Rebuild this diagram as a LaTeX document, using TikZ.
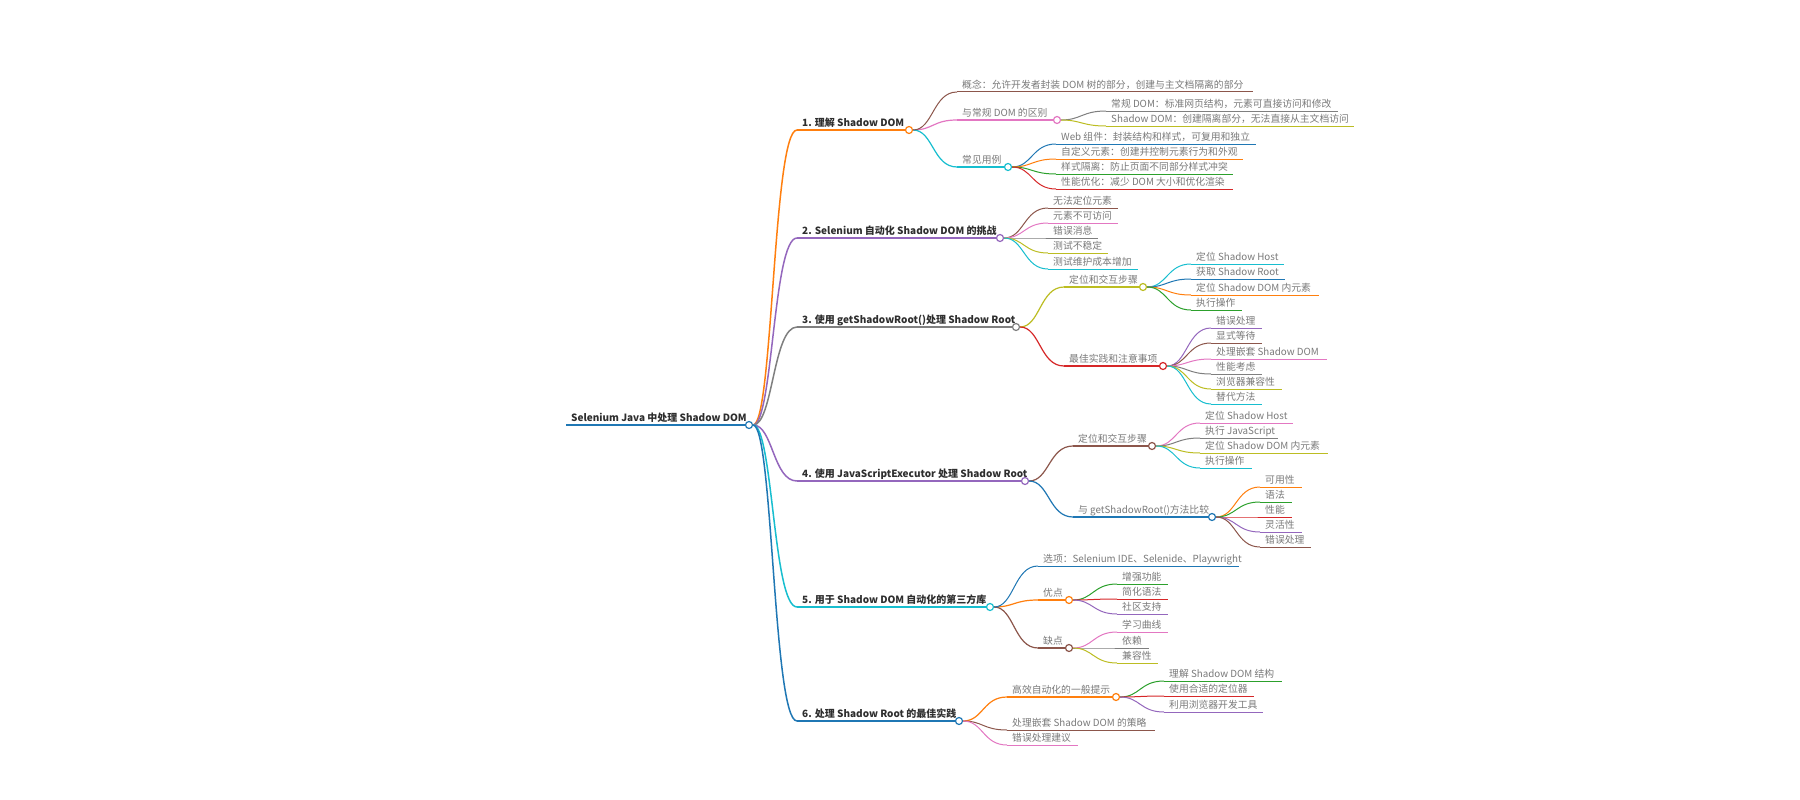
\documentclass[tikz,border=0pt]{standalone}
\usepackage{fontspec}
\setmainfont{Noto Sans CJK SC}
\usetikzlibrary{positioning}

\definecolor{mblue}{HTML}{1F77B4}
\definecolor{morange}{HTML}{FF7F0E}
\definecolor{mgreen}{HTML}{2CA02C}
\definecolor{mred}{HTML}{D62728}
\definecolor{mpurple}{HTML}{9467BD}
\definecolor{mbrown}{HTML}{8C564B}
\definecolor{mpink}{HTML}{E377C2}
\definecolor{mgray}{HTML}{7F7F7F}
\definecolor{molive}{HTML}{BCBD22}
\definecolor{mcyan}{HTML}{17BECF}
\definecolor{txtgray}{HTML}{7A7A7A}

\begin{document}
\begin{tikzpicture}[
  x=1pt, y=-1pt,
  topic/.style={anchor=south west, inner xsep=5pt, inner ysep=1.5pt, text height=8pt, text depth=2pt, text=txtgray, font=\fontsize{9.8}{11}\selectfont},
  head/.style={topic, text=black!82, font=\fontsize{10}{12}\selectfont\bfseries},
  knob/.style={circle, draw=#1, fill=white, line width=1.2pt, minimum size=7pt, inner sep=0pt},
  uline/.style={draw=#1, line width=1pt},
  link/.style={draw=#1, line width=1pt}
]
\fill[white] (0,0) rectangle (1800,800);
\useasboundingbox (0,0) rectangle (1800,800);

% root
\node[head] (root) at (566,425) {Selenium Java 中处理 Shadow DOM};
\node[knob=mblue] (root-o) at (749,425) {};
\draw[uline=mblue, line width=2pt] (root.south west) -- (root-o);

% main branches
\foreach \n/\y/\d/\col/\lbl in {%
  b1/130/909/morange/1. 理解 Shadow DOM,%
  b2/238/1000/mpurple/2. Selenium 自动化 Shadow DOM 的挑战,%
  b3/327/1016/mgray/3. 使用 getShadowRoot()处理 Shadow Root,%
  b4/481/1025/mpurple/4. 使用 JavaScriptExecutor 处理 Shadow Root,%
  b5/607/990/mcyan/5. 用于 Shadow DOM 自动化的第三方库,%
  b6/721/959/mblue/6. 处理 Shadow Root 的最佳实践%
}{
  \node[head] (\n) at (797,\y) {\lbl};
  \node[knob=\col] (\n-o) at (\d,\y) {};
  \draw[uline=\col, line width=2pt] (\n.south west) -- (\n-o);
  \draw[link=\col, line width=1.5pt] (root-o) .. controls +(24,0) and +(-24,0) .. (\n.south west);
}

% sub topics with children
\foreach \n/\p/\s/\y/\d/\col/\lbl in {%
  b1b/b1/957/120/1057/mpink/与常规 DOM 的区别,%
  b1c/b1/957/167/1008/mcyan/常见用例,%
  b3a/b3/1064/287/1143/molive/定位和交互步骤,%
  b3b/b3/1064/366/1163/mred/最佳实践和注意事项,%
  b4a/b4/1073/446/1152/mbrown/定位和交互步骤,%
  b4b/b4/1073/517/1212/mblue/与 getShadowRoot()方法比较,%
  b5b/b5/1038/600/1069/morange/优点,%
  b5c/b5/1038/648/1069/mbrown/缺点,%
  b6a/b6/1007/697/1116/morange/高效自动化的一般提示%
}{
  \node[topic] (\n) at (\s,\y) {\lbl};
  \node[knob=\col] (\n-o) at (\d,\y) {};
  \draw[uline=\col, line width=1.4pt] (\n.south west) -- (\n-o);
  \draw[link=\col, line width=1.2pt] (\p-o) .. controls +(24,0) and +(-24,0) .. (\n.south west);
}

% leaves
\foreach \p/\s/\y/\e/\col/\lbl [count=\i] in {%
  b1/957/92/1253/mbrown/概念：允许开发者封装 DOM 树的部分，创建与主文档隔离的部分,%
  b1b/1106/111/1338/mgray/常规 DOM：标准网页结构，元素可直接访问和修改,%
  b1b/1106/126/1354/molive/Shadow DOM：创建隔离部分，无法直接从主文档访问,%
  b1c/1056/144/1256/mblue/Web 组件：封装结构和样式，可复用和独立,%
  b1c/1056/159/1243/morange/自定义元素：创建并控制元素行为和外观,%
  b1c/1056/174/1233/mgreen/样式隔离：防止页面不同部分样式冲突,%
  b1c/1056/189/1233/mred/性能优化：减少 DOM 大小和优化渲染,%
  b2/1048/208/1118/mbrown/无法定位元素,%
  b2/1048/223/1118/mpink/元素不可访问,%
  b2/1048/238/1098/mgray/错误消息,%
  b2/1048/253/1108/molive/测试不稳定,%
  b2/1048/269/1138/mcyan/测试维护成本增加,%
  b3a/1191/264/1284/mcyan/定位 Shadow Host,%
  b3a/1191/279/1285/mblue/获取 Shadow Root,%
  b3a/1191/295/1319/morange/定位 Shadow DOM 内元素,%
  b3a/1191/310/1242/mgreen/执行操作,%
  b3b/1211/328/1262/mpurple/错误处理,%
  b3b/1211/343/1262/mbrown/显式等待,%
  b3b/1211/359/1327/mpink/处理嵌套 Shadow DOM,%
  b3b/1211/374/1262/mgray/性能考虑,%
  b3b/1211/389/1282/molive/浏览器兼容性,%
  b3b/1211/404/1262/mcyan/替代方法,%
  b4a/1200/423/1293/mpink/定位 Shadow Host,%
  b4a/1200/438/1278/mgray/执行 JavaScript,%
  b4a/1200/453/1328/molive/定位 Shadow DOM 内元素,%
  b4a/1200/468/1252/mcyan/执行操作,%
  b4b/1260/487/1302/morange/可用性,%
  b4b/1260/502/1292/mgreen/语法,%
  b4b/1260/517/1292/mred/性能,%
  b4b/1260/532/1302/mpurple/灵活性,%
  b4b/1260/547/1311/mbrown/错误处理,%
  b5/1038/566/1239/mblue/选项：Selenium IDE、Selenide、Playwright,%
  b5b/1117/584/1168/mgreen/增强功能,%
  b5b/1117/599/1168/mred/简化语法,%
  b5b/1117/614/1168/mpurple/社区支持,%
  b5c/1117/632/1168/mpink/学习曲线,%
  b5c/1117/648/1149/mgray/依赖,%
  b5c/1117/663/1158/molive/兼容性,%
  b6a/1164/681/1282/mgreen/理解 Shadow DOM 结构,%
  b6a/1164/696/1254/mred/使用合适的定位器,%
  b6a/1164/712/1263/mpurple/利用浏览器开发工具,%
  b6/1007/730/1155/mbrown/处理嵌套 Shadow DOM 的策略,%
  b6/1007/745/1078/mpink/错误处理建议%
}{
  \node[topic] (lf\i) at (\s,\y) {\lbl};
  \coordinate (lf\i-e) at (\e,\y);
  \draw[uline=\col] (lf\i.south west) -- (lf\i-e);
  \draw[link=\col] (\p-o) .. controls +(24,0) and +(-24,0) .. (lf\i.south west);
}
\end{tikzpicture}
\end{document}
